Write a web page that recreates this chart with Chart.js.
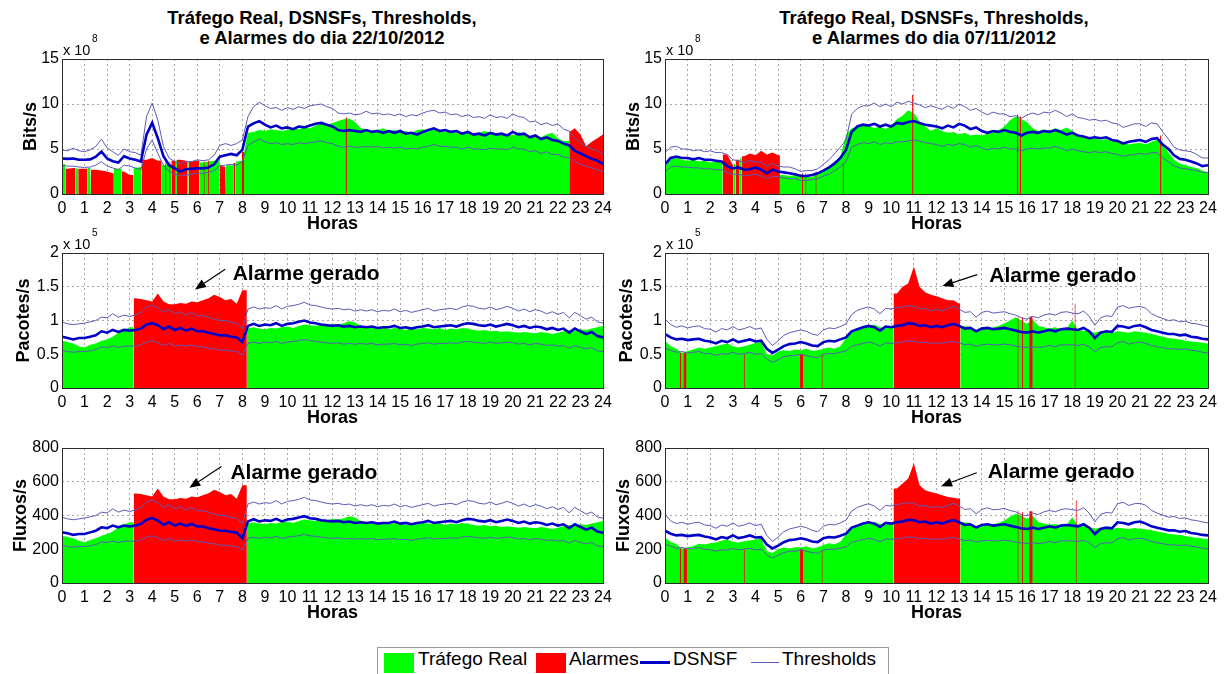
<!DOCTYPE html>
<html><head><meta charset="utf-8">
<script src="https://cdn.jsdelivr.net/npm/chart.js@4.4.0/dist/chart.umd.min.js"></script>
<style>
body{margin:0;background:#fff;width:1225px;height:674px;overflow:hidden;position:relative;font-family:"Liberation Sans",Arial,Helvetica,sans-serif;}
canvas{position:absolute;}
.title{position:absolute;font-weight:bold;font-size:18.5px;text-align:center;line-height:20px;width:500px;color:#000;}
#legend{position:absolute;left:377px;top:647px;width:510px;height:32px;border:1px solid #9a9a9a;background:#fff;}
#legend .sw{position:absolute;}
#legend .tx{position:absolute;top:0;font-size:19px;line-height:22px;color:#000;white-space:nowrap;}
</style></head>
<body>
<div class="title" style="left:72px;top:8px;">Tráfego Real, DSNSFs, Thresholds,<br>e Alarmes do dia 22/10/2012</div>
<div class="title" style="left:684px;top:8px;">Tráfego Real, DSNSFs, Thresholds,<br>e Alarmes do dia 07/11/2012</div>
<div id="legend">
  <div class="sw" style="left:6px;top:5px;width:30px;height:20px;background:#00ff00;"></div>
  <div class="tx" style="left:40px;">Tráfego Real</div>
  <div class="sw" style="left:158px;top:5px;width:30px;height:20px;background:#ff0000;"></div>
  <div class="tx" style="left:191px;">Alarmes</div>
  <div class="sw" style="left:262px;top:13px;width:30px;height:3px;background:#0000c8;"></div>
  <div class="tx" style="left:295px;">DSNSF</div>
  <div class="sw" style="left:373px;top:14px;width:28px;height:1px;background:#5a5ab8;"></div>
  <div class="tx" style="left:404px;">Thresholds</div>
</div>
<canvas id="tl" width="618" height="201" style="left:0px;top:34px;"></canvas>
<canvas id="tr" width="620" height="201" style="left:603px;top:34px;"></canvas>
<canvas id="ml" width="618" height="201" style="left:0px;top:228px;"></canvas>
<canvas id="mr" width="620" height="201" style="left:603px;top:228px;"></canvas>
<canvas id="bl" width="618" height="201" style="left:0px;top:423px;"></canvas>
<canvas id="br" width="620" height="201" style="left:603px;top:423px;"></canvas>
<script>
// ---------- DATA (samples every 0.25 h, 0..24) ----------
const tlTraffic = [3.3,2.8,2.9,2.8, 2.8,2.9,2.7,2.6, 2.5,2.3,2.8,2.5, 2.1,2.9,3.0,3.8, 4.0,3.7,3.2,3.3, 3.7,3.8,3.7,3.6, 3.7,3.5,3.6,3.7, 3.2,3.0,3.2,3.6, 3.7,6.8,6.9,7.1, 7.0,7.2,7.1,7.0, 7.1,7.3,7.2,7.4, 7.3,7.6,7.8,7.7, 7.9,8.1,8.3,8.4, 8.0,7.3,7.2,7.0, 7.1,7.3,7.0,7.1, 6.9,7.0,6.8,7.1, 7.2,7.0,7.2,7.0, 6.9,7.0,6.8,6.6, 6.9,6.6,6.8,7.0, 6.8,6.5,6.6,6.7, 6.5,6.9,6.6,6.4, 6.5,6.3,6.6,6.8, 6.2,5.9,6.9,7.3, 6.6,5.3,5.8,6.2, 6.6];
const tlDsnsf = [3.95,3.9,3.95,3.8, 3.8,3.85,4.15,4.7, 3.95,3.65,3.5,4.2, 3.95,3.8,3.6,6.6, 7.9,6.2,4.2,3.2, 2.85,2.5,2.75,2.8, 2.85,2.85,2.95,3.3, 4.15,4.3,4.45,4.3, 4.9,7.5,7.85,8.1, 7.7,7.4,7.6,7.3, 7.4,7.2,7.5,7.4, 7.6,7.8,7.9,7.7, 7.5,7.1,7.0,7.1, 7.0,6.9,7.1,6.9, 7.0,6.8,7.0,6.8, 7.0,6.7,6.8,6.6, 6.9,7.1,7.3,7.0, 7.1,6.9,7.0,6.7, 6.9,6.6,6.7,6.5, 6.8,6.6,6.7,6.5, 6.9,6.6,6.7,6.3, 6.5,6.1,6.3,6.0, 5.9,5.6,5.4,4.8, 4.5,4.2,3.9,3.7, 3.3];
const tlUpper = [4.9,4.8,5.1,4.8, 4.7,4.9,5.3,6.1, 5.1,4.7,4.3,5.0, 4.7,4.6,4.3,8.6, 10.1,8.2,5.3,4.0, 3.6,3.4,3.6,3.6, 3.8,3.7,3.8,4.3, 5.4,5.6,5.4,5.6, 6.0,8.6,9.7,10.2, 9.8,9.5,9.6,9.3, 9.6,9.4,9.7,9.5, 9.8,9.9,10.0,9.7, 9.5,9.0,8.9,9.0, 8.8,8.9,9.2,8.9, 9.0,8.8,8.9,8.7, 8.9,8.6,8.8,8.7, 9.0,9.2,9.3,9.0, 9.1,8.8,8.9,8.6, 8.8,8.5,8.6,8.4, 8.8,8.5,8.6,8.4, 8.9,8.6,8.5,8.0, 8.1,7.7,7.9,7.6, 7.8,7.2,7.0,6.2, 5.7,5.3,5.0,4.8, 4.4];
const tlLower = [3.2,3.1,3.1,3.0, 2.95,3.0,3.2,3.6, 3.1,2.9,2.7,3.2, 3.1,2.9,2.7,5.0, 6.0,4.5,3.2,2.5, 2.2,2.0,2.1,2.2, 2.3,2.3,2.4,2.6, 3.1,3.2,3.3,3.2, 3.6,5.4,5.8,6.1, 5.8,5.6,5.7,5.5, 5.6,5.5,5.7,5.6, 5.7,5.8,5.9,5.7, 5.6,5.3,5.2,5.3, 5.2,5.2,5.3,5.2, 5.3,5.1,5.2,5.1, 5.2,5.0,5.1,5.0, 5.2,5.3,5.5,5.3, 5.3,5.2,5.2,5.0, 5.2,5.0,5.0,4.9, 5.1,5.0,5.0,4.9, 5.2,5.0,5.0,4.7, 4.8,4.5,4.7,4.4, 4.4,4.1,4.0,3.6, 3.3,3.1,2.9,2.7, 2.5];
const tlAlarms = [[0.15,0.6],[0.72,1.12],[1.28,2.3],[2.65,3.17],[3.53,4.42],[4.58,4.63,3.5],[4.76,4.81,3.6],[4.85,5.05],[5.1,5.55],[5.62,6.1],[6.28,6.33,3.6],[6.48,6.53,3.7],[7.0,7.27],[7.6,7.7],[7.97,8.08,4.7],[12.58,12.64,8.5],[22.5,24]];

const trTraffic = [3.0,3.9,4.0,3.8, 3.7,3.8,3.6,3.7, 3.5,3.6,3.6,4.4, 3.2,3.8,4.2,4.5, 4.3,4.8,4.4,4.6, 4.3,2.1,2.0,2.1, 2.2,1.9,1.9,2.4, 2.7,3.1,3.6,4.1, 6.6,7.3,7.5,7.7, 7.6,7.3,7.5,7.2, 7.6,8.3,8.7,9.3, 9.0,8.0,7.5,7.0, 7.3,7.0,6.8,6.9, 6.6,6.8,6.5,6.6, 6.5,6.7,6.9,7.1, 7.5,8.2,8.6,8.3, 8.0,7.3,7.0,7.2, 7.0,7.3,7.1,7.4, 7.0,6.6,6.3,6.1, 6.2,6.0,6.1,5.8, 6.0,5.8,5.5,5.6, 5.7,5.5,5.8,6.0, 5.6,4.6,3.8,3.4, 3.2,3.0,2.9,2.6, 2.4];
const trDsnsf = [3.3,4.0,4.15,4.0, 4.0,3.85,4.0,3.8, 3.8,3.7,3.6,3.1, 2.85,2.95,2.7,2.75, 2.95,2.7,2.3,2.7, 2.5,2.4,2.3,2.2, 2.0,2.0,2.1,2.3, 2.6,2.95,3.4,4.0, 4.9,6.9,7.5,7.7, 7.6,7.8,7.5,7.7, 7.5,7.9,7.8,8.0, 8.1,7.9,7.7,7.6, 7.5,7.3,7.6,7.4, 7.8,7.6,7.2,7.4, 7.0,6.8,7.0,6.9, 7.1,6.9,6.8,6.5, 6.8,6.9,6.8,7.0, 6.9,7.1,6.9,6.6, 6.8,6.5,6.4,6.2, 6.3,6.2,6.3,6.0, 5.9,5.6,5.8,5.9, 6.0,5.8,6.1,6.2, 5.5,5.0,4.3,3.9, 3.8,3.6,3.4,3.1, 3.2];
const trUpper = [4.6,5.2,5.3,5.0, 5.0,4.8,4.9,4.7, 4.8,4.6,4.6,4.4, 3.8,3.7,3.5,3.7, 3.6,3.5,3.1,3.4, 3.1,3.0,3.0,2.8, 2.5,2.6,2.6,2.8, 3.3,3.8,4.5,5.2, 6.0,8.9,9.5,9.8, 9.8,10.1,9.7,10.0, 9.7,10.2,10.0,10.3, 10.1,9.9,9.6,9.8, 9.6,9.4,9.8,9.5, 10.0,9.7,9.3,9.5, 9.1,8.8,9.1,8.9, 8.9,8.6,8.7,8.4, 8.8,9.0,8.8,9.1, 9.0,9.3,9.0,8.6, 8.9,8.5,8.4,8.2, 8.3,8.1,8.2,7.9, 7.8,7.4,7.6,7.8, 7.8,7.5,7.9,7.8, 6.9,6.1,5.2,4.9, 4.8,4.7,4.4,4.0, 4.0];
const trLower = [2.5,3.0,3.1,3.0, 3.0,2.9,2.9,2.8, 2.8,2.7,2.7,2.4, 2.2,2.2,2.0,2.1, 2.2,2.0,1.7,2.0, 1.9,1.8,1.7,1.7, 1.5,1.5,1.6,1.7, 2.0,2.2,2.6,3.0, 3.6,5.2,5.5,5.7, 5.6,5.8,5.5,5.7, 5.6,5.8,5.8,5.9, 6.0,5.9,5.7,5.6, 5.5,5.3,5.5,5.4, 5.6,5.5,5.2,5.4, 5.1,4.9,5.1,5.0, 5.2,5.0,5.0,4.8, 5.0,5.1,5.0,5.1, 5.1,5.3,5.1,4.8, 5.0,4.8,4.7,4.6, 4.7,4.6,4.7,4.5, 4.4,4.2,4.3,4.4, 4.5,4.4,4.6,4.6, 4.0,3.6,3.1,2.9, 2.8,2.7,2.6,2.4, 2.4];
const trAlarms = [[2.55,3.02],[3.12,3.3],[3.38,5.08],[6.05,6.1,2.3],[6.2,6.25,2.3],[6.65,6.7,2.5],[7.85,7.9,3.5],[10.92,10.98,11.0],[15.55,15.62,8.8],[15.68,15.74,8.6],[21.88,21.94,6.5]];

const mlTraffic = [0.70,0.68,0.66,0.62, 0.60,0.64,0.66,0.70, 0.72,0.76,0.82,0.86, 0.90,1.33,1.32,1.30, 1.28,1.40,1.28,1.24, 1.24,1.26,1.25,1.28, 1.27,1.30,1.33,1.38, 1.35,1.30,1.32,1.25, 1.45,0.88,0.90,0.88, 0.87,0.89,0.88,0.90, 0.91,0.89,0.92,0.94, 0.93,0.92,0.94,0.93, 0.95,0.94,0.96,0.99, 0.97,0.92,0.90,0.89, 0.88,0.90,0.87,0.89, 0.88,0.86,0.88,0.87, 0.89,0.88,0.87,0.89, 0.86,0.88,0.87,0.89, 0.88,0.86,0.85,0.86, 0.84,0.85,0.83,0.84, 0.83,0.82,0.83,0.82, 0.81,0.83,0.82,0.80, 0.82,0.84,0.86,0.85, 0.87,0.86,0.88,0.90, 0.92];
const mlDsnsf = [0.76,0.74,0.72,0.74, 0.74,0.76,0.78,0.84, 0.82,0.86,0.83,0.86, 0.85,0.86,0.88,0.94, 0.96,0.93,0.87,0.91, 0.86,0.89,0.85,0.88, 0.84,0.84,0.82,0.80, 0.78,0.78,0.76,0.75, 0.68,0.92,0.95,0.92, 0.94,0.93,0.96,0.92, 0.95,0.96,0.98,1.00, 0.97,0.96,0.94,0.93, 0.92,0.93,0.91,0.92, 0.90,0.91,0.90,0.91, 0.89,0.90,0.90,0.92, 0.89,0.90,0.88,0.90, 0.91,0.93,0.90,0.91, 0.92,0.93,0.91,0.94, 0.96,0.95,0.93,0.92, 0.94,0.91,0.93,0.95, 0.93,0.90,0.92,0.89, 0.91,0.90,0.87,0.89, 0.86,0.88,0.82,0.88, 0.84,0.80,0.83,0.77, 0.75];
const mlUpper = [0.98,0.95,0.94,0.95, 0.96,0.98,1.00,1.05, 1.04,1.10,1.05,1.08, 1.06,1.08,1.12,1.20, 1.23,1.19,1.12,1.16, 1.10,1.13,1.08,1.12, 1.07,1.07,1.05,1.02, 1.00,1.00,0.97,0.96, 0.88,1.17,1.20,1.17, 1.19,1.18,1.22,1.17, 1.21,1.22,1.24,1.27, 1.23,1.22,1.20,1.18, 1.17,1.18,1.16,1.17, 1.14,1.16,1.14,1.16, 1.13,1.15,1.14,1.17, 1.13,1.15,1.12,1.14, 1.16,1.18,1.14,1.16, 1.17,1.18,1.16,1.20, 1.22,1.21,1.18,1.17, 1.20,1.16,1.18,1.21, 1.18,1.14,1.17,1.13, 1.16,1.14,1.10,1.13, 1.09,1.12,1.04,1.12, 1.07,1.02,1.05,0.98, 0.96];
const mlLower = [0.56,0.54,0.53,0.54, 0.54,0.55,0.57,0.61, 0.60,0.62,0.60,0.62, 0.62,0.62,0.64,0.68, 0.70,0.67,0.63,0.66, 0.62,0.64,0.62,0.64, 0.61,0.61,0.59,0.58, 0.56,0.56,0.55,0.54, 0.49,0.66,0.68,0.66, 0.68,0.67,0.69,0.66, 0.68,0.69,0.70,0.72, 0.70,0.69,0.68,0.67, 0.66,0.67,0.65,0.66, 0.65,0.66,0.65,0.66, 0.64,0.65,0.65,0.66, 0.64,0.65,0.63,0.65, 0.66,0.67,0.65,0.66, 0.66,0.67,0.66,0.68, 0.69,0.68,0.67,0.66, 0.68,0.66,0.67,0.68, 0.67,0.65,0.66,0.64, 0.66,0.65,0.63,0.64, 0.62,0.63,0.59,0.63, 0.60,0.58,0.60,0.55, 0.54];
const mlAlarms = [[3.18,8.2]];

const mrTraffic = [0.70,0.62,0.58,0.52, 0.55,0.57,0.60,0.58, 0.60,0.62,0.64,0.66, 0.62,0.60,0.62,0.64, 0.67,0.68,0.50,0.48, 0.54,0.56,0.55,0.57, 0.56,0.58,0.55,0.56, 0.58,0.60,0.58,0.62, 0.74,0.82,0.86,0.90, 0.92,0.94,0.90,0.88, 0.92,1.40,1.50,1.55, 1.80,1.50,1.42,1.38, 1.36,1.33,1.30,1.30, 1.25,0.92,0.90,0.86, 0.90,0.88,0.90,0.92, 0.96,1.00,1.05,1.00, 0.95,1.02,0.92,0.90, 0.88,0.90,0.87,0.88, 1.00,0.86,0.85,0.84, 0.82,0.84,0.83,0.82, 0.84,0.83,0.82,0.84, 0.83,0.82,0.80,0.78, 0.76,0.74,0.73,0.72, 0.70,0.69,0.68,0.67, 0.66];
const mrDsnsf = [0.80,0.75,0.72,0.73, 0.71,0.72,0.73,0.70, 0.69,0.66,0.70,0.68, 0.72,0.68,0.70,0.72, 0.69,0.70,0.58,0.52, 0.57,0.62,0.65,0.66, 0.68,0.66,0.63,0.62, 0.68,0.70,0.69,0.72, 0.75,0.84,0.87,0.90, 0.92,0.90,0.85,0.91, 0.90,0.92,0.93,0.96, 0.95,0.92,0.93,0.90, 0.92,0.90,0.93,0.95, 0.92,0.88,0.89,0.84, 0.88,0.89,0.87,0.88, 0.89,0.87,0.85,0.83, 0.82,0.84,0.82,0.84, 0.86,0.84,0.87,0.88, 0.87,0.86,0.89,0.84, 0.74,0.82,0.84,0.83, 0.92,0.91,0.89,0.92, 0.93,0.90,0.86,0.84, 0.82,0.80,0.80,0.78, 0.79,0.76,0.75,0.73, 0.72];
const mrUpper = [1.02,0.94,0.90,0.92, 0.89,0.91,0.92,0.88, 0.87,0.83,0.88,0.86, 0.91,0.86,0.88,0.91, 0.87,0.89,0.72,0.63, 0.70,0.78,0.82,0.84, 0.86,0.84,0.80,0.78, 0.86,0.89,0.88,0.91, 0.95,1.09,1.15,1.18, 1.20,1.17,1.10,1.18, 1.17,1.19,1.20,1.22, 1.21,1.17,1.18,1.14, 1.17,1.14,1.18,1.21, 1.17,1.12,1.13,1.05, 1.12,1.14,1.11,1.12, 1.13,1.10,1.08,1.04, 1.02,1.06,1.04,1.08, 1.10,1.08,1.12,1.13, 1.11,1.10,1.14,1.06, 0.93,1.04,1.07,1.06, 1.20,1.22,1.18,1.20, 1.21,1.18,1.10,1.06, 1.03,1.00,1.01,0.98, 0.99,0.96,0.95,0.93, 0.91];
const mrLower = [0.59,0.56,0.53,0.54, 0.52,0.53,0.54,0.51, 0.51,0.48,0.51,0.50, 0.53,0.50,0.51,0.53, 0.50,0.51,0.43,0.38, 0.42,0.46,0.48,0.48, 0.50,0.48,0.46,0.45, 0.50,0.51,0.51,0.53, 0.55,0.62,0.64,0.66, 0.68,0.66,0.62,0.67, 0.66,0.67,0.68,0.70, 0.69,0.67,0.68,0.66, 0.67,0.66,0.68,0.69, 0.67,0.64,0.65,0.62, 0.64,0.65,0.64,0.64, 0.65,0.64,0.62,0.61, 0.60,0.61,0.60,0.61, 0.63,0.61,0.64,0.64, 0.64,0.63,0.65,0.61, 0.54,0.60,0.61,0.61, 0.67,0.69,0.65,0.67, 0.68,0.66,0.63,0.61, 0.60,0.58,0.58,0.57, 0.58,0.56,0.55,0.53, 0.52];
const mrAlarms = [[0.65,0.72,0.52],[0.82,0.95,0.52],[3.48,3.53,0.5],[5.97,6.1,0.5],[6.92,6.97,0.5],[10.1,13.05],[15.58,15.63,1.05],[15.78,15.83,1.05],[16.1,16.25,1.06],[18.1,18.15,1.25]];

const blTraffic = [280,272,265,250, 242,255,265,280, 290,305,330,345, 360,530,528,520, 512,560,512,496, 496,504,500,512, 508,520,532,552, 540,520,528,500, 580,352,360,352, 348,356,352,360, 364,356,368,376, 372,368,376,372, 380,376,384,396, 388,368,360,356, 352,360,348,356, 352,344,352,348, 356,352,348,356, 344,352,348,356, 352,344,340,344, 336,340,332,336, 332,328,332,328, 324,332,328,320, 328,336,344,340, 348,344,352,360, 368];
const blDsnsf = [300,295,285,290, 290,300,310,330, 325,340,330,340, 335,340,350,375, 385,370,345,360, 340,352,338,350, 335,335,325,318, 310,310,302,298, 265,365,378,365, 372,368,380,365, 376,380,388,396, 384,380,372,368, 365,368,360,364, 356,360,356,360, 352,356,356,364, 352,356,348,356, 360,368,356,360, 364,368,360,372, 380,376,368,364, 372,360,368,376, 368,356,364,352, 360,356,344,352, 340,348,325,348, 332,316,328,305, 298];
const blUpper = [390,380,375,380, 385,392,400,420, 415,440,420,432, 424,432,448,480, 492,476,448,464, 440,452,432,448, 428,428,420,408, 400,400,388,384, 352,468,480,468, 476,472,488,468, 484,488,496,508, 492,488,480,472, 468,472,464,468, 456,464,456,464, 452,460,456,468, 452,460,448,456, 464,472,456,464, 468,472,464,480, 488,484,472,468, 480,464,472,484, 472,456,468,452, 464,456,440,452, 436,448,416,448, 428,408,420,392, 384];
const blLower = [224,216,212,216, 216,220,228,244, 240,248,240,248, 248,248,256,272, 280,268,252,264, 248,256,248,256, 244,244,236,232, 224,224,220,216, 196,264,272,264, 272,268,276,264, 272,276,280,288, 280,276,272,268, 264,268,260,264, 260,264,260,264, 256,260,260,264, 256,260,252,260, 264,268,260,264, 264,268,264,272, 276,272,268,264, 272,264,268,272, 268,260,264,256, 264,260,252,256, 248,252,236,252, 240,232,240,220, 216];
const blAlarms = [[3.18,8.2]];

const brTraffic = [270,245,230,205, 212,220,232,228, 235,240,250,258, 245,240,248,252, 258,262,190,178, 200,210,205,212, 210,218,205,212, 225,235,230,245, 290,320,340,350, 355,362,350,345, 350,560,590,620, 710,580,550,540, 530,520,510,505, 500,360,352,338, 348,342,350,356, 370,392,410,400, 380,400,360,352, 345,350,340,345, 390,340,336,332, 322,328,325,320, 328,325,320,326, 322,318,312,305, 300,292,288,284, 278,272,268,264, 260];
const brDsnsf = [310,292,282,285, 278,282,285,275, 270,258,272,265, 282,266,272,282, 270,272,228,205, 222,242,254,258, 265,258,246,242, 265,272,270,280, 292,328,340,352, 360,352,332,356, 352,360,364,375, 372,360,364,352, 360,352,364,372, 360,344,348,328, 344,348,340,344, 348,340,332,324, 320,328,320,328, 336,328,340,344, 340,336,348,328, 290,320,328,324, 360,356,348,360, 364,352,336,328, 320,312,312,304, 308,296,292,285, 282];
const brUpper = [410,368,352,360, 348,356,360,344, 340,324,344,336, 356,336,344,356, 340,348,282,246, 272,304,320,328, 336,328,312,304, 336,348,344,356, 372,426,448,460, 470,456,430,460, 456,466,470,476, 472,456,460,446, 456,446,460,472, 456,436,440,410, 436,446,434,436, 442,430,422,406, 398,414,406,422, 430,422,436,440, 434,430,446,414, 362,406,418,414, 470,478,460,470, 472,460,430,414, 402,390,394,382, 386,374,370,362, 356];
const brLower = [230,218,206,210, 203,206,210,200, 198,188,198,194, 206,196,200,206, 196,200,168,148, 164,180,188,188, 196,188,180,176, 196,200,200,206, 214,242,250,258, 265,258,242,262, 258,262,266,274, 270,262,266,258, 262,258,266,270, 262,250,254,242, 250,254,250,250, 254,250,242,238, 234,238,234,238, 246,238,250,250, 250,246,254,238, 210,234,238,238, 262,270,254,262, 266,258,246,238, 234,226,226,222, 226,218,214,206, 202];
const brAlarms = [[0.65,0.72,205],[0.82,0.97,205],[3.48,3.53,200],[5.97,6.1,200],[6.92,6.97,195],[10.1,13.05],[15.58,15.63,430],[15.78,15.83,420],[16.1,16.25,425],[18.15,18.2,490]];

// ---------- HELPERS ----------
const N = 97;
const HOURS = Array.from({length: N}, (_, i) => i / 4);
const FONT = '"Liberation Sans", Arial, Helvetica, sans-serif';
Chart.defaults.font.family = FONT;
Chart.defaults.color = '#000';

function valAt(arr, x) {
  const i = Math.min(Math.floor(x * 4), N - 2), t = x * 4 - i;
  return arr[i] * (1 - t) + arr[i + 1] * t;
}
function segment(arr, a, b, incA, incB) {
  const inner = [];
  HOURS.forEach((h, i) => {
    if ((incA ? h >= a : h > a) && (incB ? h <= b : h < b)) inner.push({x: h, y: arr[i]});
  });
  if (!inner.length) { const v = valAt(arr, (a + b) / 2); return [{x: a, y: v}, {x: b, y: v}]; }
  const out = [];
  if (inner[0].x > a) out.push({x: a, y: inner[0].y});
  out.push(...inner);
  if (inner[inner.length - 1].x < b) out.push({x: b, y: inner[inner.length - 1].y});
  return out;
}
function buildRed(arr, alarms) {
  const out = [];
  alarms.forEach(al => {
    if (al.length === 3) out.push({x: al[0], y: al[2]}, {x: al[1], y: al[2]});
    else out.push(...segment(arr, al[0], al[1], true, true));
    out.push({x: al[1], y: null});
  });
  return out;
}
function buildGreen(arr, alarms) {
  const cuts = alarms.filter(a => a.length === 2);
  const out = []; let s = 0;
  cuts.forEach(c => {
    if (c[0] > s) { out.push(...segment(arr, s, c[0], s === 0, false)); out.push({x: c[0], y: null}); }
    s = c[1];
  });
  if (s < 24) out.push(...segment(arr, s, 24, s === 0, true));
  return out;
}
const line = arr => HOURS.map((h, i) => ({x: h, y: arr[i]}));

const deco = {
  id: 'deco',
  afterDatasetsDraw(chart, args, o) {
    const {ctx, chartArea: a, scales: {x, y}} = chart;
    ctx.save();
    ctx.strokeStyle = '#2b2b2b'; ctx.lineWidth = 1;
    ctx.strokeRect(a.left + 0.5, a.top + 0.5, a.right - a.left, a.bottom - a.top);
    ctx.fillStyle = '#000'; ctx.textAlign = 'left';
    if (o.exp) {
      ctx.textBaseline = 'alphabetic';
      ctx.font = '14.5px ' + FONT;
      ctx.fillText('x 10', a.left + 1, a.top - 4);
      ctx.font = '10px ' + FONT;
      ctx.fillText(o.exp, a.left + 30, a.top - 17);
    }
    if (o.note) {
      const n = o.note;
      const x1 = x.getPixelForValue(n.ax1), y1 = y.getPixelForValue(n.ay1);
      const x2 = x.getPixelForValue(n.ax2), y2 = y.getPixelForValue(n.ay2);
      const ang = Math.atan2(y2 - y1, x2 - x1), L = 11, W = 4.5;
      const bx = x2 - L * Math.cos(ang), by = y2 - L * Math.sin(ang);
      ctx.strokeStyle = '#000'; ctx.lineWidth = 1.2;
      ctx.beginPath(); ctx.moveTo(x1, y1); ctx.lineTo(bx, by); ctx.stroke();
      ctx.beginPath(); ctx.moveTo(x2, y2);
      ctx.lineTo(bx + W * Math.sin(ang), by - W * Math.cos(ang));
      ctx.lineTo(bx - W * Math.sin(ang), by + W * Math.cos(ang));
      ctx.closePath(); ctx.fill();
      ctx.font = 'bold 21px ' + FONT; ctx.textBaseline = 'middle';
      ctx.fillText(n.text, x.getPixelForValue(n.tx), y.getPixelForValue(n.ty));
    }
    ctx.restore();
  }
};

function makeChart(id, p) {
  const gridOpts = {color: '#a6a6a6', lineWidth: 1, drawTicks: false};
  new Chart(document.getElementById(id), {
    type: 'line',
    data: {datasets: [
      {data: line(p.dsnsf), borderColor: '#0000c8', borderWidth: 2.6, pointRadius: 0, fill: false, order: 0},
      {data: line(p.up), borderColor: '#5a5ab8', borderWidth: 1, pointRadius: 0, fill: false, order: 1},
      {data: line(p.lo), borderColor: '#5a5ab8', borderWidth: 1, pointRadius: 0, fill: false, order: 2},
      {data: buildRed(p.traffic, p.alarms), borderWidth: 0, borderColor: 'rgba(0,0,0,0)', backgroundColor: '#ff0000', pointRadius: 0, fill: 'origin', order: 3},
      {data: buildGreen(p.traffic, p.alarms), borderWidth: 0, borderColor: 'rgba(0,0,0,0)', backgroundColor: '#00ff00', pointRadius: 0, fill: 'origin', order: 4}
    ]},
    options: {
      responsive: false, animation: false, devicePixelRatio: 1,
      events: [],
      layout: {padding: {left: 0, right: 15, top: 25, bottom: 0}},
      elements: {line: {tension: 0}},
      plugins: {legend: {display: false}, tooltip: {enabled: false}, deco: {exp: p.exp, note: p.note}},
      scales: {
        x: {type: 'linear', min: 0, max: 24,
          afterFit(s) { s.height = 41; },
          ticks: {stepSize: 1, autoSkip: false, maxRotation: 0, padding: 5, font: {size: 16}, color: '#000', callback: v => String(v)},
          grid: gridOpts, border: {display: false, dash: [2, 3]},
          title: {display: true, text: 'Horas', color: '#000', font: {size: 18, weight: 'bold'}, padding: {top: 0, bottom: 0}}},
        y: {min: 0, max: p.ymax,
          afterFit(s) { s.width = 62; },
          ticks: {stepSize: p.step, padding: 3, font: {size: 16}, color: '#000', callback: v => String(v)},
          grid: gridOpts, border: {display: false, dash: [2, 3]},
          title: {display: true, text: p.ylabel, color: '#000', font: {size: 18, weight: 'bold'}, padding: {top: p.ypad, bottom: 0}}}
      }
    },
    plugins: [deco]
  });
}

makeChart('tl', {traffic: tlTraffic, dsnsf: tlDsnsf, up: tlUpper, lo: tlLower, alarms: tlAlarms, ymax: 15, step: 5, ylabel: 'Bits/s', exp: '8', ypad: 20});
makeChart('tr', {traffic: trTraffic, dsnsf: trDsnsf, up: trUpper, lo: trLower, alarms: trAlarms, ymax: 15, step: 5, ylabel: 'Bits/s', exp: '8', ypad: 20});
makeChart('ml', {traffic: mlTraffic, dsnsf: mlDsnsf, up: mlUpper, lo: mlLower, alarms: mlAlarms, ymax: 2, step: 0.5, ylabel: 'Pacotes/s', exp: '5', ypad: 13,
  note: {text: 'Alarme gerado', tx: 7.57, ty: 1.68, ax1: 7.24, ay1: 1.76, ax2: 5.9, ay2: 1.46}});
makeChart('mr', {traffic: mrTraffic, dsnsf: mrDsnsf, up: mrUpper, lo: mrLower, alarms: mrAlarms, ymax: 2, step: 0.5, ylabel: 'Pacotes/s', exp: '5', ypad: 13,
  note: {text: 'Alarme gerado', tx: 14.33, ty: 1.66, ax1: 13.8, ay1: 1.68, ax2: 12.26, ay2: 1.51}});
makeChart('bl', {traffic: blTraffic, dsnsf: blDsnsf, up: blUpper, lo: blLower, alarms: blAlarms, ymax: 800, step: 200, ylabel: 'Fluxos/s', ypad: 10,
  note: {text: 'Alarme gerado', tx: 7.47, ty: 650, ax1: 7.07, ay1: 690, ax2: 5.65, ay2: 564}});
makeChart('br', {traffic: brTraffic, dsnsf: brDsnsf, up: brUpper, lo: brLower, alarms: brAlarms, ymax: 800, step: 200, ylabel: 'Fluxos/s', ypad: 10,
  note: {text: 'Alarme gerado', tx: 14.26, ty: 659, ax1: 13.78, ay1: 653, ax2: 12.2, ay2: 574}});
</script>
</body></html>
